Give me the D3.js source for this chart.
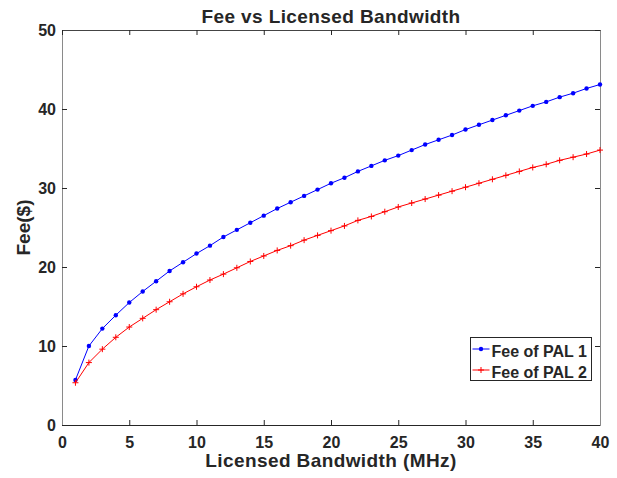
<!DOCTYPE html>
<html>
<head>
<meta charset="utf-8">
<script src="https://cdn.jsdelivr.net/npm/d3@7"></script>
<style>
  body { margin: 0; background: #fff; }
  text { font-family: "Liberation Sans", Arial, sans-serif; font-weight: bold; fill: #262626; }
</style>
</head>
<body>
<div id="wrapper"></div>
<script>
// bandwidth (MHz) and fee values
const bandwidth = d3.range(1, 41)
const feePal1 = [5.7, 10.0, 12.2, 13.9, 15.5, 16.9, 18.2, 19.5, 20.6, 21.7,
  22.7, 23.8, 24.7, 25.6, 26.5, 27.4, 28.2, 29.0, 29.8, 30.6,
  31.3, 32.1, 32.8, 33.5, 34.1, 34.8, 35.5, 36.1, 36.7, 37.4,
  38.0, 38.6, 39.2, 39.8, 40.4, 40.9, 41.5, 42.0, 42.6, 43.1]
const feePal2 = [5.35, 7.9, 9.6, 11.1, 12.4, 13.5, 14.6, 15.6, 16.6, 17.5,
  18.35, 19.1, 19.9, 20.7, 21.4, 22.1, 22.7, 23.4, 24.0, 24.6,
  25.2, 25.9, 26.4, 27.0, 27.6, 28.1, 28.6, 29.1, 29.6, 30.1,
  30.6, 31.1, 31.6, 32.1, 32.6, 33.0, 33.5, 33.9, 34.3, 34.8]
const xTicks = [0, 5, 10, 15, 20, 25, 30, 35, 40]
const yTicks = [0, 10, 20, 30, 40, 50]
const seriesNames = ["Fee of PAL 1", "Fee of PAL 2"]

const dimensions = {
  width: 617,
  height: 478,
  margin: { top: 30, right: 17, bottom: 53, left: 62 },
}
dimensions.boundedWidth = dimensions.width - dimensions.margin.left - dimensions.margin.right
dimensions.boundedHeight = dimensions.height - dimensions.margin.top - dimensions.margin.bottom

const axisColor = "#262626"

const svg = d3.select("#wrapper").append("svg")
  .attr("width", dimensions.width)
  .attr("height", dimensions.height)

const bounds = svg.append("g")
  .attr("transform", `translate(${dimensions.margin.left},${dimensions.margin.top})`)

const xScale = d3.scaleLinear().domain([0, 40]).range([0, dimensions.boundedWidth])
const yScale = d3.scaleLinear().domain([0, 50]).range([dimensions.boundedHeight, 0])

// axes, ticks inside like matlab
const tickLen = 5
const xAxis = d3.axisBottom(xScale).tickValues(xTicks).tickSizeInner(-tickLen).tickSizeOuter(0).tickPadding(12)
const yAxis = d3.axisLeft(yScale).tickValues(yTicks).tickSizeInner(-tickLen).tickSizeOuter(0).tickPadding(6)
const xTop = d3.axisTop(xScale).tickValues(xTicks).tickSizeInner(-tickLen).tickSizeOuter(0).tickFormat("")
const yRight = d3.axisRight(yScale).tickValues(yTicks).tickSizeInner(-tickLen).tickSizeOuter(0).tickFormat("")

const styleAxis = (g, domainColor) => {
  g.selectAll("line").attr("stroke", axisColor).attr("stroke-width", 1)
  g.select(".domain").attr("stroke", domainColor).attr("stroke-width", 1)
  g.selectAll("text").attr("font-size", 16).attr("fill", axisColor)
    .attr("font-family", "Liberation Sans, Arial, sans-serif").attr("font-weight", "bold")
}

bounds.append("g").attr("transform", `translate(0,${dimensions.boundedHeight})`).call(xAxis).call(styleAxis, axisColor)
bounds.append("g").call(yAxis).call(styleAxis, "#8a8a8a")
bounds.append("g").call(xTop).call(styleAxis, "#444")
bounds.append("g").attr("transform", `translate(${dimensions.boundedWidth},0)`).call(yRight).call(styleAxis, "#8a8a8a")

// lines
const series = [
  { name: seriesNames[0], values: feePal1, color: "#0000ff", marker: "dot" },
  { name: seriesNames[1], values: feePal2, color: "#ff0000", marker: "plus" },
]
const lineGen = d3.line()
  .x((d, i) => xScale(bandwidth[i]))
  .y(d => yScale(d))

const drawMarker = (g, type, color, x, y) => {
  if (type === "dot") {
    g.append("circle").attr("cx", x).attr("cy", y).attr("r", 2.2).attr("fill", color)
  } else {
    g.append("path").attr("d", `M${x - 3},${y}H${x + 3}M${x},${y - 3}V${y + 3}`)
      .attr("stroke", color).attr("stroke-width", 1)
  }
}

series.forEach(s => {
  const g = bounds.append("g")
  g.append("path")
    .attr("d", lineGen(s.values))
    .attr("fill", "none")
    .attr("stroke", s.color)
    .attr("stroke-width", 1)
  s.values.forEach((v, i) => drawMarker(g, s.marker, s.color, xScale(bandwidth[i]), yScale(v)))
})

// title + labels
svg.append("text")
  .attr("x", dimensions.margin.left + dimensions.boundedWidth / 2)
  .attr("y", 23)
  .attr("text-anchor", "middle")
  .attr("font-size", 19)
  .attr("letter-spacing", 0.4)
  .attr("fill", "#000")
  .text("Fee vs Licensed Bandwidth")

svg.append("text")
  .attr("x", dimensions.margin.left + dimensions.boundedWidth / 2)
  .attr("y", 467)
  .attr("text-anchor", "middle")
  .attr("font-size", 19)
  .attr("letter-spacing", 0.4)
  .text("Licensed Bandwidth (MHz)")

svg.append("text")
  .attr("transform", `translate(30,${dimensions.margin.top + dimensions.boundedHeight / 2}) rotate(-90)`)
  .attr("text-anchor", "middle")
  .attr("font-size", 19)
  .text("Fee($)")

// legend
const legend = svg.append("g").attr("transform", "translate(470.5,337.5)")
legend.append("rect")
  .attr("width", 121).attr("height", 43)
  .attr("fill", "#fff").attr("stroke", axisColor).attr("stroke-width", 1)
series.forEach((s, i) => {
  const y = 11.5 + i * 21
  legend.append("line").attr("x1", 2).attr("x2", 19).attr("y1", y).attr("y2", y)
    .attr("stroke", s.color).attr("stroke-width", 1)
  drawMarker(legend, s.marker, s.color, 10.5, y)
  legend.append("text").attr("x", 21).attr("y", y + 7.5)
    .attr("font-size", 16).attr("fill", "#000")
    .text(s.name)
})
</script>
</body>
</html>
